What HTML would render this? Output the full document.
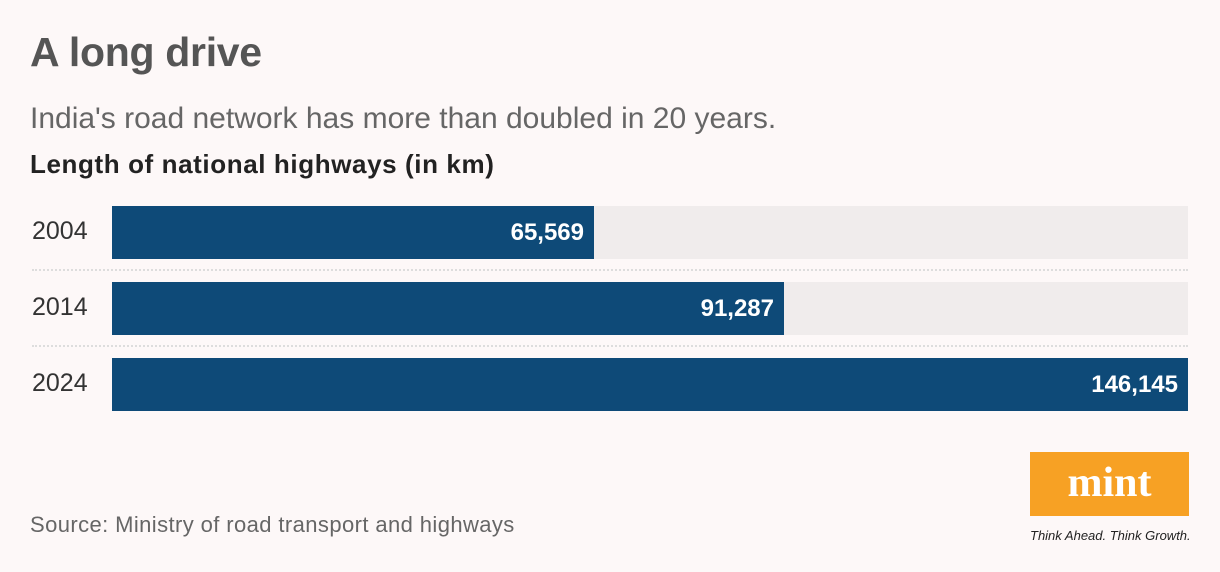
<!DOCTYPE html>
<html><head><style>
body{margin:0;width:1220px;height:572px;background:#fdf8f8;font-family:"Liberation Sans",sans-serif;position:relative;overflow:hidden}
.a{position:absolute;white-space:nowrap}
.t{left:30px;top:29px;font-size:41px;font-weight:bold;color:#555;letter-spacing:-0.3px}
.s{left:30px;top:102px;font-size:30px;color:#666}
.h{left:30px;top:149px;font-size:26px;font-weight:bold;color:#222;letter-spacing:0.6px}
.y{left:32px;font-size:25px;color:#333}
.tr{left:112px;width:1076px;height:53px;background:#f0ecec}
.b{left:112px;height:53px;background:#0e4a78;color:#fff;font-weight:bold;font-size:24px;text-align:right;box-sizing:border-box;padding-right:10px;line-height:53px}
.sep{left:32px;width:1156px;border-top:2px dotted #ddd}
</style></head><body>
<div class="a t">A long drive</div>
<div class="a s">India's road network has more than doubled in 20 years.</div>
<div class="a h">Length of national highways (in km)</div>
<div class="a y" style="top:217px">2004</div>
<div class="a y" style="top:293px">2014</div>
<div class="a y" style="top:369px">2024</div>
<div class="a tr" style="top:206px"></div>
<div class="a tr" style="top:282px"></div>
<div class="a b" style="top:206px;width:482px">65,569</div>
<div class="a b" style="top:282px;width:672px">91,287</div>
<div class="a b" style="top:358px;width:1076px">146,145</div>
<div class="a sep" style="top:269px"></div>
<div class="a sep" style="top:345px"></div>
<div class="a" style="left:30px;top:512px;font-size:22px;color:#666;letter-spacing:0.4px">Source: Ministry of road transport and highways</div>
<div class="a" style="left:1030px;top:452px;width:159px;height:64px;background:#f7a124;color:#fff;font-family:'Liberation Serif',serif;font-weight:bold;font-size:42px;text-align:center;line-height:62px">mint</div>
<div class="a" style="left:1030px;top:528px;font-size:13px;font-style:italic;color:#222">Think Ahead. Think Growth.</div>
</body></html>
